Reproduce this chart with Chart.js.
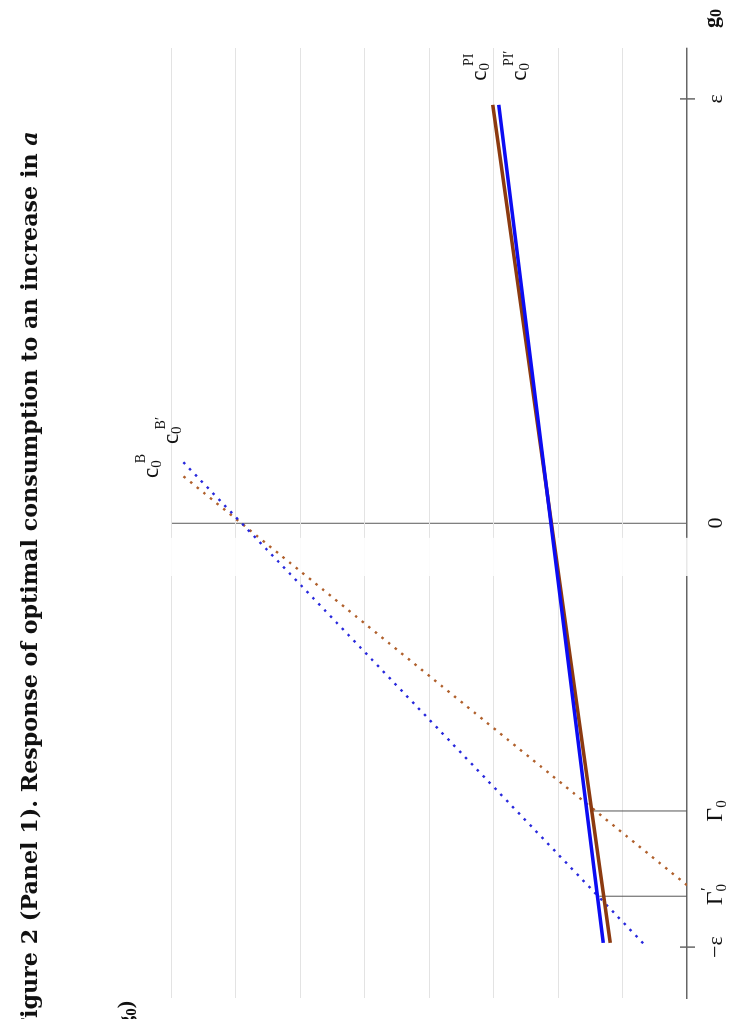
<!DOCTYPE html>
<html>
<head>
<meta charset="utf-8">
<script src="https://cdn.jsdelivr.net/npm/chart.js@4.4.0/dist/chart.umd.min.js"></script>
<style>
    html, body { margin: 0; padding: 0; background: #fff; overflow: hidden; }
    /* il grafico originale è ruotato di 90° in senso antiorario */
    #wrap {
        position: absolute; left: 0; top: 0;
        width: 1019px; height: 730px;
        transform-origin: 0 0;
        transform: translate(0px, 1019px) rotate(-90deg);
    }
</style>
</head>
<body>
<div id="wrap"><canvas id="chart" width="1019" height="730"></canvas></div>
<script>
// ==================== DATI (g0 in unità di ε, c0 in unità di griglia) ====================
const gPI = [-0.99, 0.986];
const cPI = [1.19, 3.01];        // c0^PI  (marrone, continua)
const cPIp = [1.30, 2.92];       // c0^PI' (blu, continua)
const gB = [-0.854, 0.118];
const cB = [0, 7.87];            // c0^B   (marrone, punteggiata)
const gBp = [-0.991, 0.153];
const cBp = [0.68, 7.87];        // c0^B'  (blu, punteggiata)
const gammaG = [-0.679, -0.88];  // Γ0, Γ0'
const gammaC = [1.48, 1.36];
const epsTicks = [-1, 0, 1];
const epsLabels = ['−ε', '0', 'ε'];

const SERIF = "'Liberation Serif', 'DejaVu Serif', serif";
const TITLE_FONT = "'DejaVu Serif', serif";

function pts(xs, ys) {
    return xs.map((x, i) => ({ x: x, y: ys[i] }));
}

function runFont(r) {
    return [r.st || '', r.w || '', r.s + 'px', r.f || SERIF].join(' ').trim();
}

function runsWidth(ctx, runs) {
    let w = 0;
    runs.forEach(r => {
        ctx.font = runFont(r);
        w += (r.dx || 0) + ctx.measureText(r.t).width;
    });
    return w;
}

// disegna testo composto (pedici / apici)
function drawRuns(ctx, x, y, runs, align) {
    const w = runsWidth(ctx, runs);
    let cx = align === 'center' ? x - w / 2 : align === 'right' ? x - w : x;
    ctx.textAlign = 'left';
    ctx.textBaseline = 'alphabetic';
    runs.forEach(r => {
        ctx.font = runFont(r);
        cx += r.dx || 0;
        ctx.fillText(r.t, cx, y + (r.dy || 0));
        cx += ctx.measureText(r.t).width;
    });
    return w;
}

function cLabel(sup) {
    return [
        { t: 'c', s: 23 },
        { t: '0', s: 15, dy: 3 },
        { t: sup, s: 14, dy: -13, dx: -3 }
    ];
}

const decorPlugin = {
    id: 'decor',
    beforeDatasetsDraw(chart) {
        // banda bianca che interrompe la griglia nell'originale
        const { ctx, chartArea, scales: { x } } = chart;
        const x1 = x.getPixelForValue(-0.125);
        const x2 = x.getPixelForValue(-0.035);
        ctx.save();
        ctx.fillStyle = 'rgba(255,255,255,0.85)';
        ctx.fillRect(x1, chartArea.top - 2, x2 - x1, chartArea.bottom - chartArea.top + 4);
        ctx.restore();
    },
    afterDraw(chart) {
        const { ctx, chartArea, scales: { x, y } } = chart;
        const axisY = y.getPixelForValue(0);
        ctx.save();
        ctx.fillStyle = '#111';

        // tacche a ±ε
        ctx.strokeStyle = '#666';
        ctx.lineWidth = 1.5;
        [-1, 1].forEach(v => {
            const px = x.getPixelForValue(v);
            ctx.beginPath();
            ctx.moveTo(px, axisY - 7);
            ctx.lineTo(px, axisY + 8);
            ctx.stroke();
        });

        // etichette asse g0
        const labY = axisY + 35;
        epsTicks.forEach((v, i) => {
            drawRuns(ctx, x.getPixelForValue(v), labY, [{ t: epsLabels[i], s: 22 }], 'center');
        });
        drawRuns(ctx, x.getPixelForValue(gammaG[0]), labY,
            [{ t: 'Γ', s: 24 }, { t: '0', s: 15, dy: 4 }], 'center');
        drawRuns(ctx, x.getPixelForValue(gammaG[1]), labY,
            [{ t: 'Γ', s: 24 }, { t: '0', s: 15, dy: 4 }, { t: '′', s: 17, dy: -10, dx: -7 }], 'center');

        // etichette delle curve
        const endPI = { x: x.getPixelForValue(gPI[1]), y: y.getPixelForValue(cPI[1]) };
        const endPIp = { x: x.getPixelForValue(gPI[1]), y: y.getPixelForValue(cPIp[1]) };
        const endB = { x: x.getPixelForValue(gB[1]), y: y.getPixelForValue(cB[1]) };
        const endBp = { x: x.getPixelForValue(gBp[1]), y: y.getPixelForValue(cBp[1]) };
        drawRuns(ctx, endPI.x + 24, endPI.y - 7, cLabel('PI'));
        drawRuns(ctx, endPIp.x + 24, endPIp.y + 27, cLabel('PI\u2032'));
        drawRuns(ctx, endB.x - 5, endB.y - 21, cLabel('B'));
        drawRuns(ctx, endBp.x + 14, endBp.y - 1, cLabel('B\u2032'));

        // titoli degli assi
        drawRuns(ctx, chartArea.left - 3, chartArea.top - 39, [
            { t: 'c', s: 22, w: 'bold' }, { t: '0', s: 15, w: 'bold', dy: 4 },
            { t: '(g', s: 22, w: 'bold' }, { t: '0', s: 15, w: 'bold', dy: 4 },
            { t: ')', s: 22, w: 'bold' }
        ], 'right');
        drawRuns(ctx, chartArea.right + 20, axisY + 31, [
            { t: 'g', s: 22, w: 'bold' }, { t: '0', s: 16, w: 'bold', dy: 3 }
        ]);

        // titolo (la "F" iniziale esce dal bordo come nell'originale)
        const titleText = 'Figure 2 (Panel 1). Response of optimal consumption to an increase in ';
        const mkTitle = fs => [
            { t: titleText, s: fs, w: 'bold', f: TITLE_FONT },
            { t: 'a', s: fs, w: 'bold', st: 'italic', f: TITLE_FONT }
        ];
        let fs = 22;
        let runs = mkTitle(fs);
        ctx.font = runFont(runs[0]);
        let wF = ctx.measureText('F').width;
        fs = fs * 887 / (runsWidth(ctx, runs) - wF);
        runs = mkTitle(fs);
        ctx.font = runFont(runs[0]);
        wF = ctx.measureText('F').width;
        drawRuns(ctx, 1 - wF, 37, runs);

        ctx.restore();
    }
};

new Chart(document.getElementById('chart'), {
    type: 'scatter',
    data: {
        datasets: [{
            label: 'c0 PI\'',
            data: pts(gPI, cPIp),
            showLine: true,
            borderColor: '#0c0cf2',
            borderWidth: 3.5,
            pointRadius: 0,
            order: 1
        }, {
            label: 'c0 PI',
            data: pts(gPI, cPI),
            showLine: true,
            borderColor: '#8c3a10',
            borderWidth: 3.5,
            pointRadius: 0,
            order: 2
        }, {
            label: 'c0 B\'',
            data: pts(gBp, cBp),
            showLine: true,
            borderColor: '#2828dc',
            borderWidth: 2.4,
            borderDash: [2.5, 6],
            pointRadius: 0,
            order: 3
        }, {
            label: 'c0 B',
            data: pts(gB, cB),
            showLine: true,
            borderColor: '#b0602c',
            borderWidth: 2.4,
            borderDash: [2.5, 6],
            pointRadius: 0,
            order: 4
        }, {
            label: 'Γ0',
            data: pts([gammaG[0], gammaG[0]], [0, gammaC[0]]),
            showLine: true,
            borderColor: '#555',
            borderWidth: 1,
            pointRadius: 0,
            order: 5
        }, {
            label: 'Γ0\'',
            data: pts([gammaG[1], gammaG[1]], [0, gammaC[1]]),
            showLine: true,
            borderColor: '#555',
            borderWidth: 1,
            pointRadius: 0,
            order: 6
        }]
    },
    options: {
        responsive: false,
        animation: false,
        layout: { padding: { left: 21, right: 48, top: 171, bottom: 43 } },
        plugins: {
            legend: { display: false },
            tooltip: { enabled: false }
        },
        scales: {
            x: {
                type: 'linear',
                min: -1.12,
                max: 1.12,
                afterBuildTicks: axis => { axis.ticks = [{ value: 0 }]; },
                ticks: { display: false },
                grid: { color: '#808080', lineWidth: 1.3, drawTicks: false },
                border: { display: true, color: '#666', width: 1.5 }
            },
            y: {
                min: 0,
                max: 8,
                ticks: { display: false, stepSize: 1 },
                grid: {
                    color: ctx => ctx.tick && ctx.tick.value === 0 ? 'rgba(0,0,0,0)' : '#e3e3e3',
                    lineWidth: 1,
                    drawTicks: false
                },
                border: { display: false }
            }
        }
    },
    plugins: [decorPlugin]
});
</script>
</body>
</html>
